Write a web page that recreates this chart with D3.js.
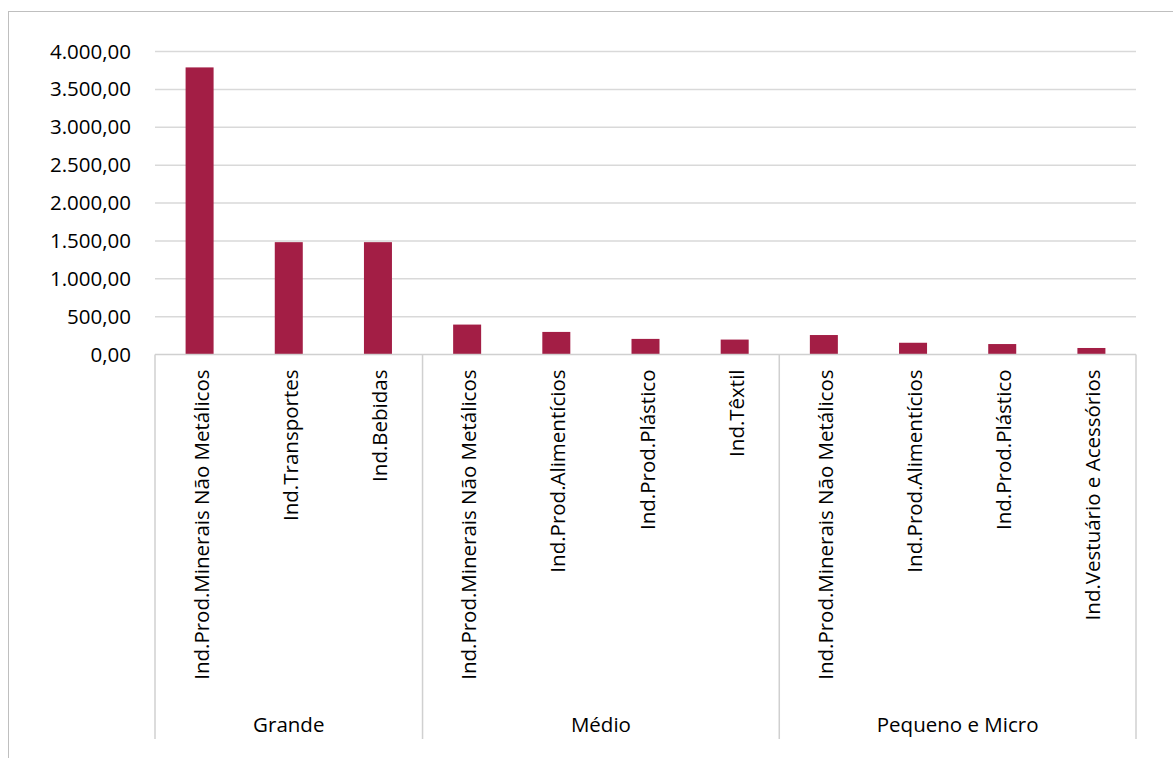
<!DOCTYPE html>
<html>
<head>
<meta charset="utf-8">
<script src="https://cdn.jsdelivr.net/npm/d3@7"></script>
<style>
  html, body { margin: 0; padding: 0; background: #fff; }
  svg { display: block; }
  text { font-family: "Open Sans", "Noto Sans", sans-serif; fill: #000; }
</style>
</head>
<body>
<svg id="chart" width="1173" height="758"></svg>
<script>
// Porte da empresa (grupo) e setor industrial de cada barra
const groups = ["Grande", "Médio", "Pequeno e Micro"];
const groupOf = ["Grande", "Grande", "Grande",
                 "Médio", "Médio", "Médio", "Médio",
                 "Pequeno e Micro", "Pequeno e Micro", "Pequeno e Micro", "Pequeno e Micro"];
const sectors = ["Ind.Prod.Minerais Não Metálicos", "Ind.Transportes", "Ind.Bebidas",
                 "Ind.Prod.Minerais Não Metálicos", "Ind.Prod.Alimentícios", "Ind.Prod.Plástico", "Ind.Têxtil",
                 "Ind.Prod.Minerais Não Metálicos", "Ind.Prod.Alimentícios", "Ind.Prod.Plástico", "Ind.Vestuário e Acessórios"];
const values = [3790, 1483, 1483, 395, 298, 206, 197, 257, 155, 138, 86];
const yTicks = [0, 500, 1000, 1500, 2000, 2500, 3000, 3500, 4000];

const svg = d3.select("#chart");
const plotLeft = 155, plotRight = 1136, plotTop = 51.5, base = 354.5, groupBottom = 739;
const fontSize = "20.5px";

// Moldura externa da área do gráfico
svg.append("rect")
  .attr("x", 8.5).attr("y", 11.5).attr("width", 1180).attr("height", 800)
  .attr("fill", "none").attr("stroke", "#bfbfbf").attr("stroke-width", 1);

const idx = d3.range(values.length);
const x = d3.scaleBand().domain(idx).range([plotLeft, plotRight]).paddingInner(0).paddingOuter(0);
const y = d3.scaleLinear().domain([0, 4000]).range([base, plotTop]);

const fmt = v => {
  const s = d3.format(",.2f")(v);
  return s.replace(/,/g, "#").replace(/\./g, ",").replace(/#/g, ".");
};

// Linhas de grade horizontais
svg.append("g").selectAll("line").data(yTicks.filter(d => d > 0)).join("line")
  .attr("x1", plotLeft).attr("x2", plotRight)
  .attr("y1", d => y(d)).attr("y2", d => y(d))
  .attr("stroke", "#d9d9d9").attr("stroke-width", 1.5);

// Rótulos do eixo Y
const yAxis = d3.axisLeft(y).tickValues(yTicks).tickFormat(fmt).tickSize(0).tickPadding(24);
const gy = svg.append("g").attr("transform", `translate(${plotLeft},0)`).call(yAxis);
gy.select(".domain").remove();
gy.selectAll("text").style("font-size", fontSize).style("font-family", "'Open Sans', sans-serif").attr("fill", "#000");

// Barras
const barW = 28;
svg.append("g").selectAll("rect").data(idx).join("rect")
  .attr("x", i => x(i) + x.bandwidth() / 2 - barW / 2)
  .attr("width", barW)
  .attr("y", i => y(values[i]))
  .attr("height", i => base - y(values[i]))
  .attr("fill", "#a31e45");

// Eixo de categorias (linha base)
svg.append("line")
  .attr("x1", plotLeft).attr("x2", plotRight).attr("y1", base).attr("y2", base)
  .attr("stroke", "#d0d0d0").attr("stroke-width", 1.5);

// Separadores entre grupos
const groupStarts = groups.map(g => groupOf.indexOf(g));
const groupEnds = groups.map(g => groupOf.lastIndexOf(g));
const sepX = groupStarts.map(i => x(i)).concat([x(groupEnds[groupEnds.length - 1]) + x.bandwidth()]);
svg.append("g").selectAll("line").data(sepX).join("line")
  .attr("x1", d => d).attr("x2", d => d)
  .attr("y1", base).attr("y2", groupBottom)
  .attr("stroke", "#d0d0d0").attr("stroke-width", 1.5);

// Rótulos dos setores, rotacionados
svg.append("g").selectAll("text").data(idx).join("text")
  .attr("transform", i => `translate(${x(i) + x.bandwidth() / 2 + 9},${base + 15}) rotate(-90)`)
  .attr("text-anchor", "end")
  .style("font-size", fontSize)
  .text(i => sectors[i]);

// Rótulos dos grupos
svg.append("g").selectAll("text").data(groups).join("text")
  .attr("x", (g, k) => (x(groupStarts[k]) + x(groupEnds[k]) + x.bandwidth()) / 2)
  .attr("y", 732)
  .attr("text-anchor", "middle")
  .style("font-size", fontSize)
  .text(g => g);
</script>
</body>
</html>
